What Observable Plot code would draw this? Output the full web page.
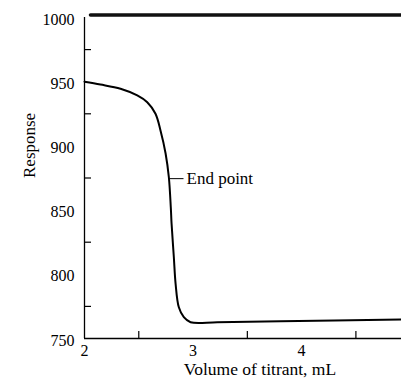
<!DOCTYPE html>
<html>
<head>
<meta charset="utf-8">
<script src="https://cdn.jsdelivr.net/npm/d3@7"></script>
<script src="https://cdn.jsdelivr.net/npm/@observablehq/plot@0.6"></script>
<style>
  html, body { margin: 0; padding: 0; background: #fff; }
  svg { font-family: "Liberation Serif", "DejaVu Serif", serif; }
</style>
</head>
<body>
<div id="chart"></div>
<script>
// Titration curve data
const volume   = [2.000, 2.147, 2.332, 2.486, 2.578, 2.654, 2.700, 2.747, 2.777, 2.795, 2.802, 2.823, 2.839, 2.869, 2.915, 2.977, 3.223, 3.806, 4.920];
const response = [950.0, 947.8, 944.5, 939.3, 934.0, 925.0, 912.0, 894.1, 875.6, 852.0, 839.6, 813.3, 792.8, 774.3, 766.6, 762.7, 762.7, 763.5, 764.8];

// Reference (upper) trace at ~1000
const refX = [2.055, 4.920];
const refY = [1002, 1002];

// Axis ticks
const xLabels = [2, 3, 4];
const xMinor = [2.5, 3.5, 4.5];
const yLabels = [750, 800, 850, 900, 950, 1000];
const yMinor = [775, 825, 875, 925, 975];

// Annotation
const endPointLabel = ["End point"];
const endPointX1 = [2.779];
const endPointX2 = [2.912];
const endPointY = [874.5];

const data = volume.map((v, i) => ({v, r: response[i]}));
const ref = refX.map((v, i) => ({v, r: refY[i]}));

const chart = Plot.plot({
  width: 401,
  height: 382,
  marginLeft: 84,
  marginRight: 0,
  marginTop: 17,
  marginBottom: 44,
  style: {fontFamily: "Liberation Serif", fontSize: "16px", background: "#fff", color: "#000"},
  x: {domain: [2, 4.92]},
  y: {domain: [750, 1000]},
  marks: [
    // axis lines
    Plot.ruleX([2], {stroke: "#000", strokeWidth: 1.3}),
    Plot.ruleY([750], {stroke: "#000", strokeWidth: 1.3}),
    // y labels and inward minor ticks
    Plot.axisY({ticks: yLabels, tickFormat: d => String(d), tickSize: 0, tickPadding: 10, label: null, fontSize: 16, dy: 2}),
    Plot.axisY({ticks: yMinor, tickSize: -7, tickFormat: () => "", label: null, strokeWidth: 1.2}),
    // x labels and inward minor ticks
    Plot.axisX({ticks: xLabels, tickFormat: d => String(d), tickSize: 0, tickPadding: 6, label: null, fontSize: 16}),
    Plot.axisX({ticks: xMinor, tickSize: -7, tickFormat: () => "", label: null, strokeWidth: 1.2}),
    // axis titles
    Plot.text(["Response"], {frameAnchor: "left", rotate: -90, dx: -55, fontSize: 17, lineAnchor: "middle"}),
    Plot.text(["Volume of titrant, mL"], {frameAnchor: "bottom", dx: 17, dy: 31, fontSize: 17.5, lineAnchor: "middle"}),
    // reference trace
    Plot.line(ref, {x: "v", y: "r", stroke: "#111", strokeWidth: 3.5}),
    // titration curve
    Plot.line(data, {x: "v", y: "r", curve: "catmull-rom", stroke: "#000", strokeWidth: 2}),
    // end point annotation
    Plot.link(endPointLabel, {x1: () => endPointX1[0], x2: () => endPointX2[0], y1: () => endPointY[0], y2: () => endPointY[0], stroke: "#000", strokeWidth: 1}),
    Plot.text(endPointLabel, {x: () => endPointX2[0], y: () => endPointY[0], text: d => d, textAnchor: "start", dx: 3, fontSize: 17})
  ]
});
document.getElementById("chart").appendChild(chart);
</script>
</body>
</html>
